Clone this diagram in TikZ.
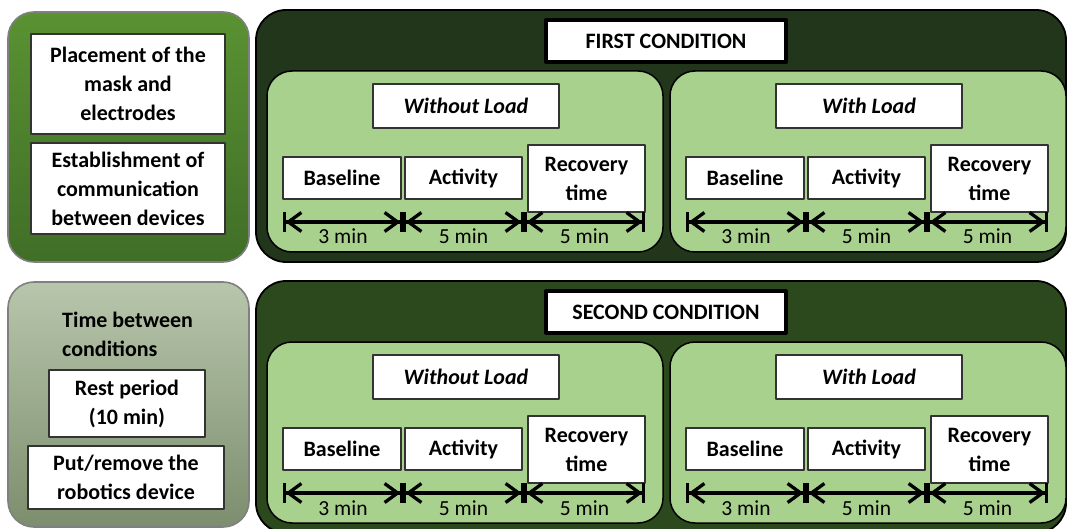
\documentclass[tikz,border=0pt]{standalone}
\usepackage{fontspec}
\setmainfont{Carlito}
\usetikzlibrary{arrows.meta}

\definecolor{lightpanel}{HTML}{A9D18E}
\definecolor{darkfirst}{HTML}{21361A}
\definecolor{darksecond}{HTML}{2C481D}
\definecolor{prepTop}{HTML}{5A9232}
\definecolor{prepBot}{HTML}{406E27}
\definecolor{restTop}{HTML}{B8C6AB}
\definecolor{restBot}{HTML}{7C8E6E}

\begin{document}
\begin{tikzpicture}[x=1pt,y=-1pt, line join=round, font=\fontsize{22}{29}\selectfont\bfseries]
	\useasboundingbox (0,0) rectangle (1068,529);
	
	% ===== styles =====
	\tikzset{
		wbox/.style={draw=black!80, fill=white, line width=1.3pt, align=center, inner sep=0pt},
		sidebox/.style={draw=gray, line width=1.6pt, rounded corners=26pt, inner sep=0pt},
		condbox/.style={draw=black, line width=1.8pt, rounded corners=30pt, inner sep=0pt,
			minimum width=810, minimum height=252},
		loadbox/.style={draw=black, fill=lightpanel, line width=1.5pt, rounded corners=25pt, inner sep=0pt,
			minimum width=396, minimum height=181},
		titlebox/.style={wbox, draw=black, line width=4pt, minimum width=240, minimum height=42},
		dim/.style={line width=3.3pt,
			{Bar[width=20pt,line width=2.6pt,sep=0pt]Straight Barb[length=13pt,width=19pt,sep=0pt]}-{Straight Barb[length=13pt,width=19pt,sep=0pt]Bar[width=20pt,line width=2.6pt,sep=0pt]}},
		mins/.style={midway, anchor=base, yshift=-22pt, font=\fontsize{21.5}{25}\selectfont}
	}
	
	% ===== left column =====
	\node[sidebox, top color=prepTop, bottom color=prepBot, minimum width=241, minimum height=250] (prep) at (128.5,137) {};
	\node[wbox, minimum width=194, minimum height=100] (place) at (128,84) {Placement of the\\mask and\\electrodes};
	\node[wbox, minimum width=194, minimum height=91] (comm) at (128,188.5) {Establishment of\\communication\\between devices};
	
	\node[sidebox, top color=restTop, bottom color=restBot, minimum width=241, minimum height=245] (rest) at (128.5,404.5) {};
	\node[anchor=west, align=left, inner sep=0pt] (between) at (62,334.5) {Time between\\conditions};
	\node[wbox, minimum width=156, minimum height=67] (restper) at (127,403.5) {Rest period\\(10 min)};
	\node[wbox, minimum width=196, minimum height=63] (device) at (126,477.5) {Put/remove the\\robotics device};
	
	% ===== conditions =====
	\foreach \dy/\col/\title [count=\r] in {0/darkfirst/FIRST CONDITION, 271/darksecond/SECOND CONDITION}{
		\node[condbox, fill=\col] (cond-\r) at (661,136+\dy) {};
		\node[titlebox] (title-\r) at (666,41+\dy) {\title};
		
		\foreach \dx/\load [count=\c] in {0/Without Load, 403/With Load}{
			\node[loadbox] (panel-\r-\c) at (465+\dx,161.5+\dy) {};
			\node[wbox, minimum width=186, minimum height=44] (load-\r-\c) at (466+\dx,106+\dy) {\itshape\load};
			\node[wbox, minimum width=118, minimum height=42] (base-\r-\c) at (342+\dx,178+\dy) {Baseline};
			\node[wbox, minimum width=117, minimum height=42] (act-\r-\c) at (463.5+\dx,178+\dy) {Activity};
			\node[wbox, minimum width=117, minimum height=67] (rec-\r-\c) at (586.5+\dx,178.5+\dy) {Recovery\\time};
			
			% time line
			\coordinate (t0-\r-\c) at (283+\dx,222+\dy);
			\coordinate (t1-\r-\c) at (403+\dx,222+\dy);
			\coordinate (t2-\r-\c) at (524+\dx,222+\dy);
			\coordinate (t3-\r-\c) at (645+\dx,222+\dy);
			\draw[dim] (t0-\r-\c) -- (t1-\r-\c) node[mins] {3 min};
			\draw[dim] (t1-\r-\c) -- (t2-\r-\c) node[mins] {5 min};
			\draw[dim] (t2-\r-\c) -- (t3-\r-\c) node[mins] {5 min};
		}
	}
\end{tikzpicture}
\end{document}
